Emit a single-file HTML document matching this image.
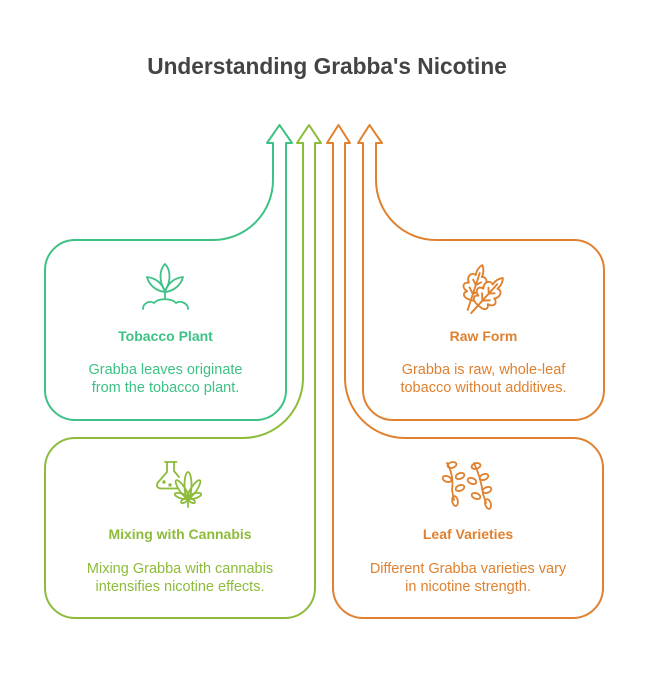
<!DOCTYPE html>
<html><head><meta charset="utf-8"><style>
html,body{margin:0;padding:0;background:#fff;}
svg{display:block;}
text{font-family:"Liberation Sans",Arial,sans-serif;}
</style></head><body>
<svg width="648" height="696" viewBox="0 0 648 696" xmlns="http://www.w3.org/2000/svg">
<defs>
<path id="oak" d="M-2,-6 C-8,-6 -10,-10 -6,-13 C-12,-14 -13,-20 -7,-21 C-11,-26 -8,-32 -3,-30 C-4,-36 -1,-40 0,-41 C1,-40 4,-36 3,-30 C8,-32 11,-26 7,-21 C13,-20 12,-14 6,-13 C10,-10 8,-6 2,-6 Z"/>
</defs>
<rect width="648" height="696" fill="#fff"/>
<text x="327" y="74" text-anchor="middle" font-size="22.7" font-weight="bold" fill="#444444">Understanding Grabba's Nicotine</text>

<g fill="none" stroke-width="2" stroke-linejoin="round">
<path stroke="#3DC185" d="M273,180 V143 H267 L279.5,125 L292,143 H286 V390 A30,30 0 0 1 256,420 H75 A30,30 0 0 1 45,390 V270 A30,30 0 0 1 75,240 H213 A60,60 0 0 0 273,180 Z"/>
<path stroke="#8DBB3A" d="M303,378 V143 H297 L309,125 L321,143 H315 V588 A30,30 0 0 1 285,618 H75 A30,30 0 0 1 45,588 V468 A30,30 0 0 1 75,438 H243 A60,60 0 0 0 303,378 Z"/>
<path stroke="#E0812F" d="M333,588 V143 H327 L338.5,125 L350,143 H345 V378 A60,60 0 0 0 405,438 H573 A30,30 0 0 1 603,468 V588 A30,30 0 0 1 573,618 H363 A30,30 0 0 1 333,588 Z"/>
<path stroke="#E0812F" d="M363,390 V143 H358 L369.5,125 L382,143 H376 V180 A60,60 0 0 0 436,240 H574 A30,30 0 0 1 604,270 V390 A30,30 0 0 1 574,420 H393 A30,30 0 0 1 363,390 Z"/>
</g>

<!-- plant icon -->
<g fill="none" stroke="#3DC185" stroke-width="1.8" stroke-linecap="round" stroke-linejoin="round">
<path d="M165,264 C159,270 159,282 165,291 C171,282 171,270 165,264 Z"/>
<path d="M147,277 C149,285 156,291 165,292 C163,284 156,278 147,277 Z"/>
<path d="M183,277 C181,285 174,291 165,292 C167,284 174,278 183,277 Z"/>
<path d="M165,291 V299"/>
<path d="M143,309 C143,303 150,300 154,303 C158,298 172,298 176,303 C180,300 188,303 188,309"/>
</g>

<!-- flask + cannabis icon -->
<g fill="none" stroke="#8DBB3A" stroke-width="1.8" stroke-linecap="round" stroke-linejoin="round">
<path d="M165,462 H176.5"/>
<path d="M167,462 V472 L157.5,483 Q155.5,488 161,488.5 H177"/>
<path d="M174,462 V471 L179,477"/>
<circle cx="164" cy="482" r="0.8"/>
<circle cx="170" cy="485" r="0.8"/>
<ellipse cx="188" cy="485" rx="13" ry="3.5" transform="rotate(90 188 485)"/>
<ellipse cx="182" cy="489" rx="10.5" ry="3" transform="rotate(56.3 182 489)"/>
<ellipse cx="194" cy="489" rx="10.5" ry="3" transform="rotate(-56.3 194 489)"/>
<ellipse cx="181.5" cy="496" rx="7" ry="2.5" transform="rotate(17 181.5 496)"/>
<ellipse cx="194.5" cy="496" rx="7" ry="2.5" transform="rotate(-17 194.5 496)"/>
<ellipse cx="184.5" cy="500.5" rx="4" ry="1.8" transform="rotate(-35 184.5 500.5)"/>
<ellipse cx="191.5" cy="500.5" rx="4" ry="1.8" transform="rotate(35 191.5 500.5)"/>
<path d="M188,498 V507"/>
</g>

<!-- oak leaves icon -->
<g fill="none" stroke="#E0812F" stroke-width="1.8" stroke-linecap="round" stroke-linejoin="round">
<g transform="translate(469,306) rotate(18) scale(1.05)">
<use href="#oak" fill="#fff"/>
<path d="M0,-6 V4 M0,-6 V-33 M0,-12 L-5,-17 M0,-12 L5,-17 M0,-21 L-4,-25 M0,-21 L4,-25"/>
</g>
<g transform="translate(474,310) rotate(42) scale(1.05)">
<use href="#oak" fill="#fff"/>
<path d="M0,-6 V4 M0,-6 V-33 M0,-12 L-5,-17 M0,-12 L5,-17 M0,-21 L-4,-25 M0,-21 L4,-25"/>
</g>
</g>

<!-- leaf varieties icon -->
<g fill="none" stroke="#E0812F" stroke-width="1.8" stroke-linecap="round" stroke-linejoin="round">
<path d="M447,463 Q454,475 452,490 L454,500"/>
<ellipse cx="452" cy="465" rx="4.5" ry="2.8" transform="rotate(-15 452 465)"/>
<ellipse cx="447" cy="479" rx="4.5" ry="2.8" transform="rotate(20 447 479)"/>
<ellipse cx="460" cy="476" rx="4.5" ry="2.8" transform="rotate(-20 460 476)"/>
<ellipse cx="460" cy="488" rx="4.5" ry="2.8" transform="rotate(-20 460 488)"/>
<ellipse cx="455" cy="501" rx="2.8" ry="5" transform="rotate(-10 455 501)"/>
<path d="M474,463 Q481,478 483,494 L486,503"/>
<ellipse cx="476" cy="466" rx="4.5" ry="2.8" transform="rotate(-15 476 466)"/>
<ellipse cx="472" cy="481" rx="4.5" ry="2.8" transform="rotate(20 472 481)"/>
<ellipse cx="484" cy="477" rx="4.5" ry="2.8" transform="rotate(-20 484 477)"/>
<ellipse cx="487" cy="490" rx="4.5" ry="2.8" transform="rotate(-20 487 490)"/>
<ellipse cx="476" cy="496" rx="4.5" ry="2.8" transform="rotate(20 476 496)"/>
<ellipse cx="488" cy="504" rx="2.8" ry="5" transform="rotate(-15 488 504)"/>
</g>

<!-- text -->
<g text-anchor="middle">
<text x="165.5" y="341" font-size="14" font-weight="bold" fill="#3DC185">Tobacco Plant</text>
<text x="165.5" y="374" font-size="14.5" fill="#3DC185">Grabba leaves originate</text>
<text x="165.5" y="392" font-size="14.5" fill="#3DC185">from the tobacco plant.</text>

<text x="483.5" y="341" font-size="14" font-weight="bold" fill="#E0812F">Raw Form</text>
<text x="483.5" y="374" font-size="14.5" fill="#E0812F">Grabba is raw, whole-leaf</text>
<text x="483.5" y="392" font-size="14.5" fill="#E0812F">tobacco without additives.</text>

<text x="180" y="539" font-size="14" font-weight="bold" fill="#8DBB3A">Mixing with Cannabis</text>
<text x="180" y="573" font-size="14.5" fill="#8DBB3A">Mixing Grabba with cannabis</text>
<text x="180" y="591" font-size="14.5" fill="#8DBB3A">intensifies nicotine effects.</text>

<text x="468" y="539" font-size="14" font-weight="bold" fill="#E0812F">Leaf Varieties</text>
<text x="468" y="573" font-size="14.5" fill="#E0812F">Different Grabba varieties vary</text>
<text x="468" y="591" font-size="14.5" fill="#E0812F">in nicotine strength.</text>
</g>
</svg>
</body></html>
